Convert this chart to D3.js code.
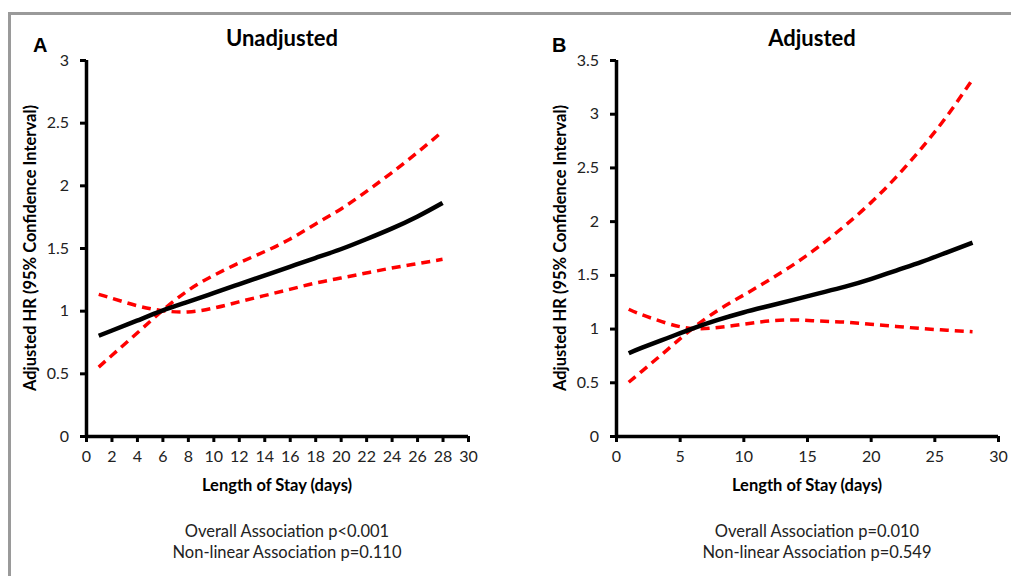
<!DOCTYPE html>
<html>
<head>
<meta charset="utf-8">
<script src="https://cdn.jsdelivr.net/npm/d3@7"></script>
<style>
  body { margin: 0; background: #fff; }
  svg { display: block; }
</style>
</head>
<body>
<div id="chart"></div>
<script>
// days where the spline was read
const days = [1, 2, 4, 6, 8, 10, 12, 14, 16, 18, 20, 22, 24, 26, 28];

// panel A - unadjusted
const hrA    = [0.80, 0.84, 0.92, 1.00, 1.07, 1.14, 1.21, 1.28, 1.35, 1.42, 1.49, 1.57, 1.655, 1.75, 1.86];
const upperA = [0.55, 0.64, 0.82, 1.00, 1.16, 1.28, 1.38, 1.47, 1.57, 1.69, 1.81, 1.95, 2.10, 2.26, 2.43];
const lowerA = [1.13, 1.10, 1.04, 1.00, 0.99, 1.02, 1.07, 1.12, 1.17, 1.22, 1.26, 1.30, 1.34, 1.375, 1.41];

// panel B - adjusted
const hrB    = [0.77, 0.82, 0.91, 1.00, 1.08, 1.15, 1.21, 1.27, 1.33, 1.39, 1.46, 1.54, 1.62, 1.71, 1.80];
const upperB = [0.50, 0.60, 0.80, 1.00, 1.17, 1.31, 1.45, 1.60, 1.77, 1.96, 2.17, 2.41, 2.68, 2.98, 3.32];
const lowerB = [1.18, 1.13, 1.05, 1.00, 1.01, 1.04, 1.07, 1.08, 1.07, 1.06, 1.04, 1.02, 1.00, 0.985, 0.97];

const xTicksA = d3.range(0, 31, 2);
const xTicksB = [0, 5, 10, 15, 20, 25, 30];
const yTicksA = [0, 0.5, 1, 1.5, 2, 2.5, 3];
const yTicksB = [0, 0.5, 1, 1.5, 2, 2.5, 3, 3.5];

const panels = [
  { letter: "A", letterX: 33, title: "Unadjusted", left: 86, yMax: 3, yTicks: yTicksA, xTicks: xTicksA,
    hr: hrA, upper: upperA, lower: lowerA,
    notes: ["Overall Association p<0.001", "Non-linear Association p=0.110"] },
  { letter: "B", letterX: 552, title: "Adjusted", left: 616, yMax: 3.5, yTicks: yTicksB, xTicks: xTicksB,
    hr: hrB, upper: upperB, lower: lowerB,
    notes: ["Overall Association p=0.010", "Non-linear Association p=0.549"] }
];

const width = 1011, height = 576;
const plotTop = 60, plotBottom = 436, plotW = 382;
const font = "Lato, 'Open Sans', sans-serif";

const svg = d3.select("#chart").append("svg")
  .attr("width", width)
  .attr("height", height);

// grey frame
svg.append("path")
  .attr("d", `M9.5,${height} V13.5 H${width}`)
  .attr("fill", "none")
  .attr("stroke", "#9a9a9a")
  .attr("stroke-width", 3);

panels.forEach(p => {
  const x = d3.scaleLinear().domain([0, 30]).range([p.left, p.left + plotW]);
  const y = d3.scaleLinear().domain([0, p.yMax]).range([plotBottom, plotTop]);
  const g = svg.append("g");

  const xAxis = g.append("g")
    .attr("transform", `translate(0,${plotBottom})`)
    .call(d3.axisBottom(x).tickValues(p.xTicks).tickSize(6).tickPadding(9).tickFormat(d3.format("d")));
  const yAxis = g.append("g")
    .attr("transform", `translate(${p.left},0)`)
    .call(d3.axisLeft(y).tickValues(p.yTicks).tickSize(6).tickPadding(11).tickFormat(d => d));

  [xAxis, yAxis].forEach(a => {
    a.select(".domain").attr("stroke", "#000").attr("stroke-width", 3.5);
    a.selectAll(".tick line").attr("stroke", "#000").attr("stroke-width", 3);
    a.selectAll(".tick text").attr("font-family", font).attr("font-size", 16).attr("fill", "#222");
  });
  // drop outer end ticks of the domain path
  xAxis.select(".domain").attr("d", `M${p.left},0.5H${p.left + plotW}`);
  yAxis.select(".domain").attr("d", `M0.5,${plotBottom}V${plotTop}`);

  const line = d3.line()
    .x((d, i) => x(days[i]))
    .y(d => y(d))
    .curve(d3.curveNatural);

  [p.upper, p.lower].forEach(ci => {
    g.append("path")
      .attr("d", line(ci))
      .attr("fill", "none")
      .attr("stroke", "#ff0000")
      .attr("stroke-width", 3.5)
      .attr("stroke-dasharray", "9,6");
  });
  g.append("path")
    .attr("d", line(p.hr))
    .attr("fill", "none")
    .attr("stroke", "#000")
    .attr("stroke-width", 4.5);

  // titles and labels
  g.append("text")
    .attr("x", x(15) + 5).attr("y", 46)
    .attr("text-anchor", "middle")
    .attr("font-family", font).attr("font-weight", "bold").attr("font-size", 22)
    .text(p.title);
  g.append("text")
    .attr("x", p.letterX).attr("y", 52)
    .attr("font-family", "'Liberation Sans', Arial, sans-serif").attr("font-weight", "bold").attr("font-size", 20)
    .text(p.letter);
  g.append("text")
    .attr("transform", `translate(${p.left - 50},${(plotTop + plotBottom) / 2}) rotate(-90)`)
    .attr("text-anchor", "middle")
    .attr("font-family", font).attr("font-weight", "bold").attr("font-size", 16.5)
    .text("Adjusted HR (95% Confidence Interval)");
  g.append("text")
    .attr("x", x(15)).attr("y", 491)
    .attr("text-anchor", "middle")
    .attr("font-family", font).attr("font-weight", "bold").attr("font-size", 16.5)
    .text("Length of Stay (days)");
  p.notes.forEach((t, i) => {
    g.append("text")
      .attr("x", x(15) + 10).attr("y", 537 + i * 21)
      .attr("text-anchor", "middle")
      .attr("font-family", font).attr("font-size", 16.5).attr("fill", "#222")
      .text(t);
  });
});
</script>
</body>
</html>
